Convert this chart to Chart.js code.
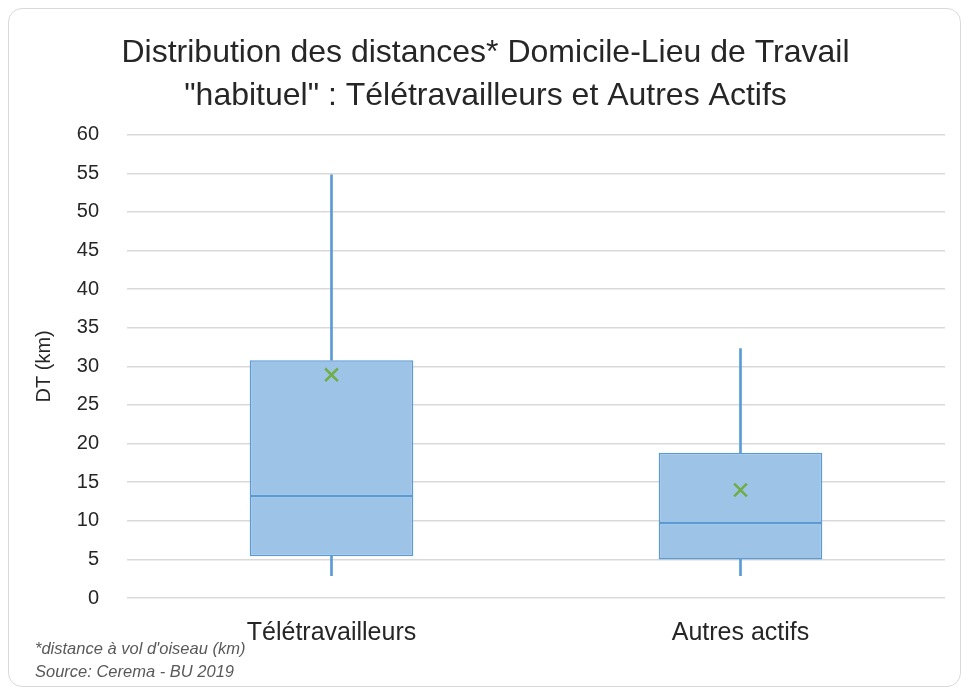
<!DOCTYPE html>
<html>
<head>
<meta charset="utf-8">
<script src="https://cdn.jsdelivr.net/npm/chart.js@4/dist/chart.umd.min.js"></script>
<style>
  body { margin: 0; background: #fff; }
  #wrap { position: relative; width: 969px; height: 696px; }
  #frame { position: absolute; left: 8px; top: 8px; width: 951px; height: 677px;
           border: 1.5px solid #d9d9d9; border-radius: 14px; }
  #myChart { position: absolute; left: 0; top: 0; }
  .note { position: absolute; left: 35px; font: italic 16.5px "Liberation Sans", Arial, sans-serif; color: #595959; }
</style>
</head>
<body>
<div id="wrap">
  <div id="frame"></div>
  <canvas id="myChart" width="969" height="696"></canvas>
  <div class="note" style="top:639px">*distance à vol d'oiseau (km)</div>
  <div class="note" style="top:662px">Source: Cerema - BU 2019</div>
</div>
<script>
var categories = ['Télétravailleurs', 'Autres actifs'];
var minValues = [2.9, 2.9];
var q1Values = [5.4, 5.0];
var medianValues = [13.2, 9.7];
var q3Values = [30.8, 18.8];
var maxValues = [54.8, 32.3];
var meanValues = [28.9, 14.0];

var boxFill = '#9dc3e6';
var boxLine = '#5b9bd5';
var fontName = '"Liberation Sans", Arial, sans-serif';

function pairs(a, b){
    var out = [];
    for(var i = 0; i < a.length; i++){
        out.push([a[i], b[i]]);
    }
    return out;
}

var ctx = document.getElementById('myChart');
var myChart = new Chart(ctx, {
    type: 'bar',
    data: {
        labels: categories,
        datasets: [{
            label: 'lower whisker',
            data: pairs(minValues, q1Values),
            backgroundColor: boxLine,
            barThickness: 2,
            grouped: false,
            order: 3
        }, {
            label: 'upper whisker',
            data: pairs(q3Values, maxValues),
            backgroundColor: boxLine,
            barThickness: 2,
            grouped: false,
            order: 3
        }, {
            label: 'Q1-median',
            data: pairs(q1Values, medianValues),
            backgroundColor: boxFill,
            borderColor: boxLine,
            borderWidth: 1.5,
            borderSkipped: false,
            categoryPercentage: 1,
            barPercentage: 0.4,
            grouped: false,
            order: 2
        }, {
            label: 'median-Q3',
            data: pairs(medianValues, q3Values),
            backgroundColor: boxFill,
            borderColor: boxLine,
            borderWidth: 1.5,
            borderSkipped: false,
            categoryPercentage: 1,
            barPercentage: 0.4,
            grouped: false,
            order: 2
        }, {
            type: 'line',
            label: 'Moyenne',
            data: meanValues,
            showLine: false,
            pointStyle: 'crossRot',
            pointRadius: 9,
            pointBorderColor: '#70ad47',
            pointBorderWidth: 2.5,
            order: 1
        }]
    },
    options: {
        responsive: false,
        animation: false,
        layout: { padding: { left: 26, right: 24, top: 14, bottom: 49 } },
        plugins: {
            legend: { display: false },
            tooltip: { enabled: false },
            title: {
                display: true,
                text: ['Distribution des distances* Domicile-Lieu de Travail', '"habituel" : Télétravailleurs et Autres Actifs'],
                color: '#262626',
                font: { family: fontName, size: 32, weight: 'normal', lineHeight: 1.34 },
                padding: { top: 18, bottom: 17 }
            }
        },
        scales: {
            x: {
                grid: { display: false, drawTicks: false },
                border: { display: false },
                ticks: { color: '#262626', font: { family: fontName, size: 25 }, padding: 20 },
                afterFit: function(s){ s.height = 49; }
            },
            y: {
                min: 0,
                max: 60,
                ticks: { stepSize: 5, color: '#262626', font: { family: fontName, size: 20 }, padding: 28 },
                grid: { color: '#d9d9d9', lineWidth: 1.5, drawTicks: false },
                border: { display: false },
                title: { display: true, text: 'DT (km)', color: '#262626', font: { family: fontName, size: 20 }, padding: 6 },
                afterFit: function(s){ s.width = 101; }
            }
        }
    }
});
</script>
</body>
</html>
